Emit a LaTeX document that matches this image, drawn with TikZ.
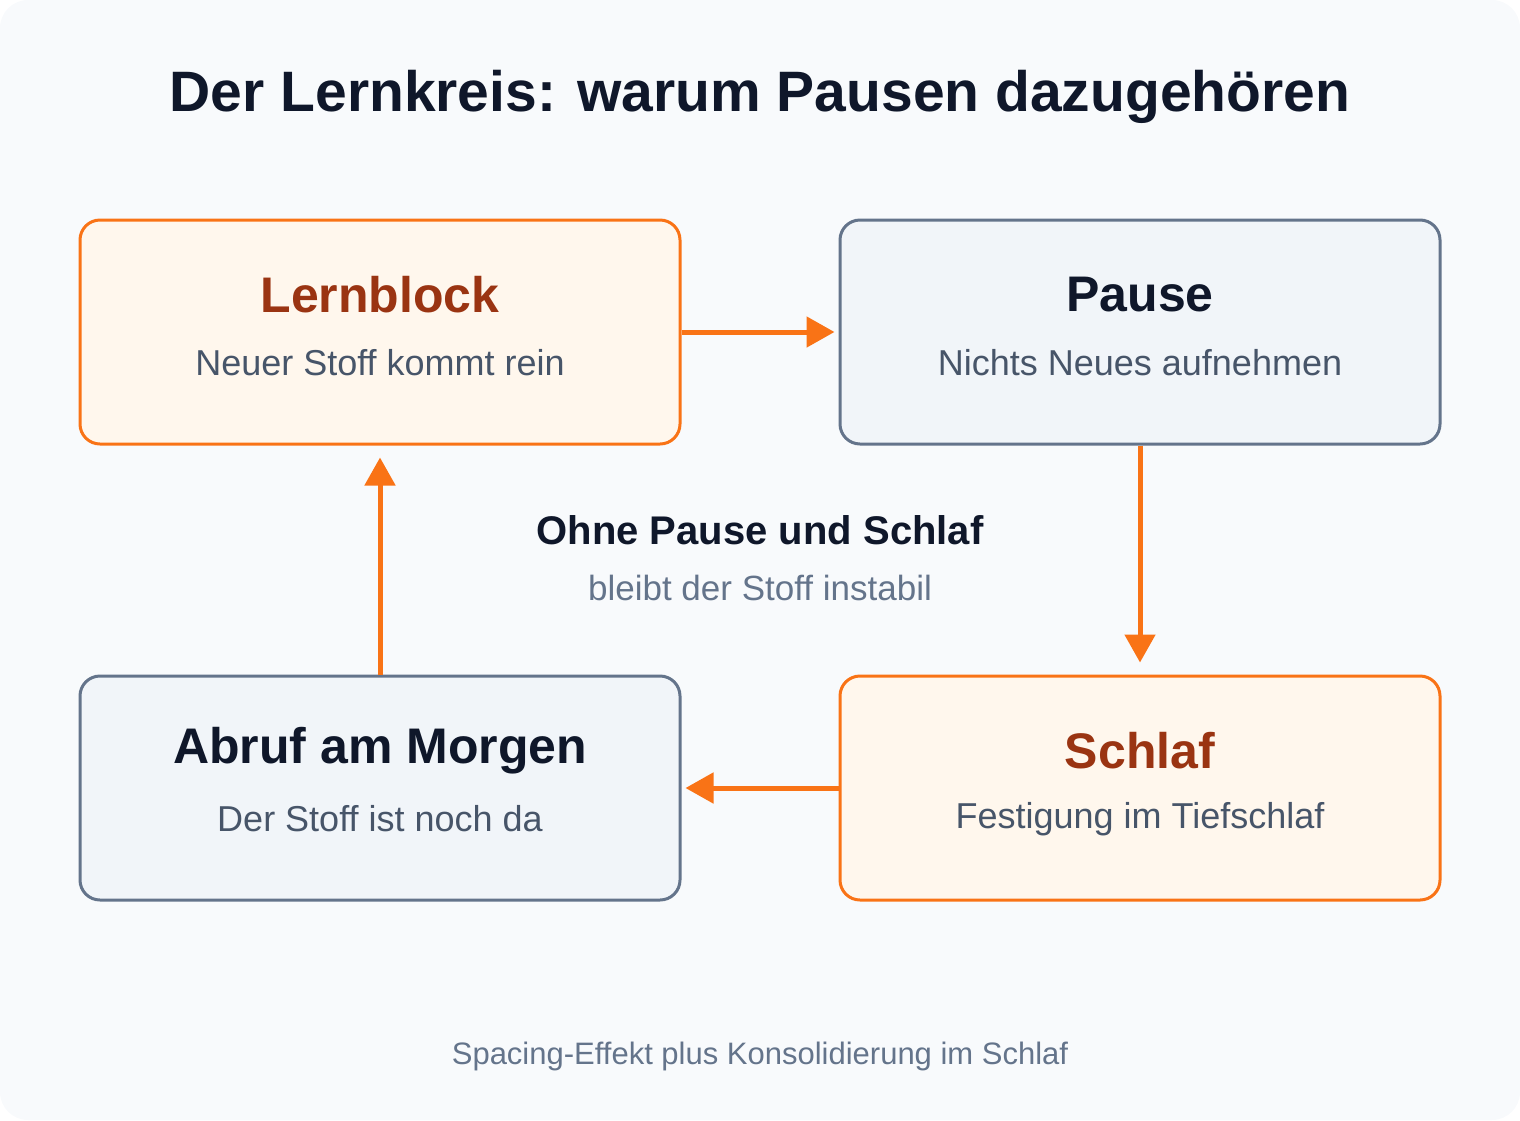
\documentclass[tikz,border=0pt]{standalone}
\usepackage{fontspec}
\setmainfont{Liberation Sans}
\usetikzlibrary{arrows.meta}
\definecolor{bg}{HTML}{F8FAFC}
\definecolor{orb}{HTML}{F97316}
\definecolor{orf}{HTML}{FFF7ED}
\definecolor{ort}{HTML}{9A3412}
\definecolor{grb}{HTML}{64748B}
\definecolor{grf}{HTML}{F1F5F9}
\definecolor{dark}{HTML}{0F172A}
\definecolor{sub}{HTML}{475569}
\begin{document}
\begin{tikzpicture}[x=1pt,y=-1pt,
  box/.style={draw,line width=3pt,rounded corners=20pt,minimum width=600pt,minimum height=224pt,inner sep=0pt},
  obox/.style={box,draw=orb,fill=orf},
  gbox/.style={box,draw=grb,fill=grf},
  ttl/.style={font=\fontsize{50}{54}\selectfont\bfseries},
  st/.style={font=\fontsize{36}{40}\selectfont,text=sub},
  arr/.style={draw=orb,line width=5pt,-{Triangle[length=28pt,width=30pt]},shorten >=4pt}]
\fill[bg,rounded corners=28pt] (0,0) rectangle (1520,1120);
\useasboundingbox (0,0) rectangle (1520,1120);
\node[font=\fontsize{57}{60}\selectfont\bfseries,text=dark] (title) at (760,97) {Der Lernkreis: warum Pausen dazugehören};
\node[obox] (lb) at (380,332) {};
\node[gbox] (pa) at (1140,332) {};
\node[gbox] (ab) at (380,788) {};
\node[obox] (sc) at (1140,788) {};
\node[ttl,text=ort] (lbt) at (380,295) {Lernblock};
\node[st] (lbs) at (380,363) {Neuer Stoff kommt rein};
\node[ttl,text=dark] (pat) at (1140,295) {Pause};
\node[st] (pas) at (1140,363) {Nichts Neues aufnehmen};
\node[ttl,text=dark] (abt) at (380,751) {Abruf am Morgen};
\node[st] (abs) at (380,819) {Der Stoff ist noch da};
\node[ttl,text=ort] (sct) at (1140,751) {Schlaf};
\node[st] (scs) at (1140,819) {Festigung im Tiefschlaf};
\node[font=\fontsize{40}{44}\selectfont\bfseries,text=dark] (c1) at (760,530) {Ohne Pause und Schlaf};
\node[font=\fontsize{35}{40}\selectfont,text=grb] (c2) at (760,588) {bleibt der Stoff instabil};
\node[font=\fontsize{31}{36}\selectfont,text=grb] (ft) at (760,1056) {Spacing-Effekt plus Konsolidierung im Schlaf};
\draw[arr] (lb.east) -- (pa.west);
\draw[arr,shorten >=12pt] (pa.south) -- (sc.north);
\draw[arr] (sc.west) -- (ab.east);
\draw[arr,shorten >=12pt] (ab.north) -- (lb.south);
\end{tikzpicture}
\end{document}
